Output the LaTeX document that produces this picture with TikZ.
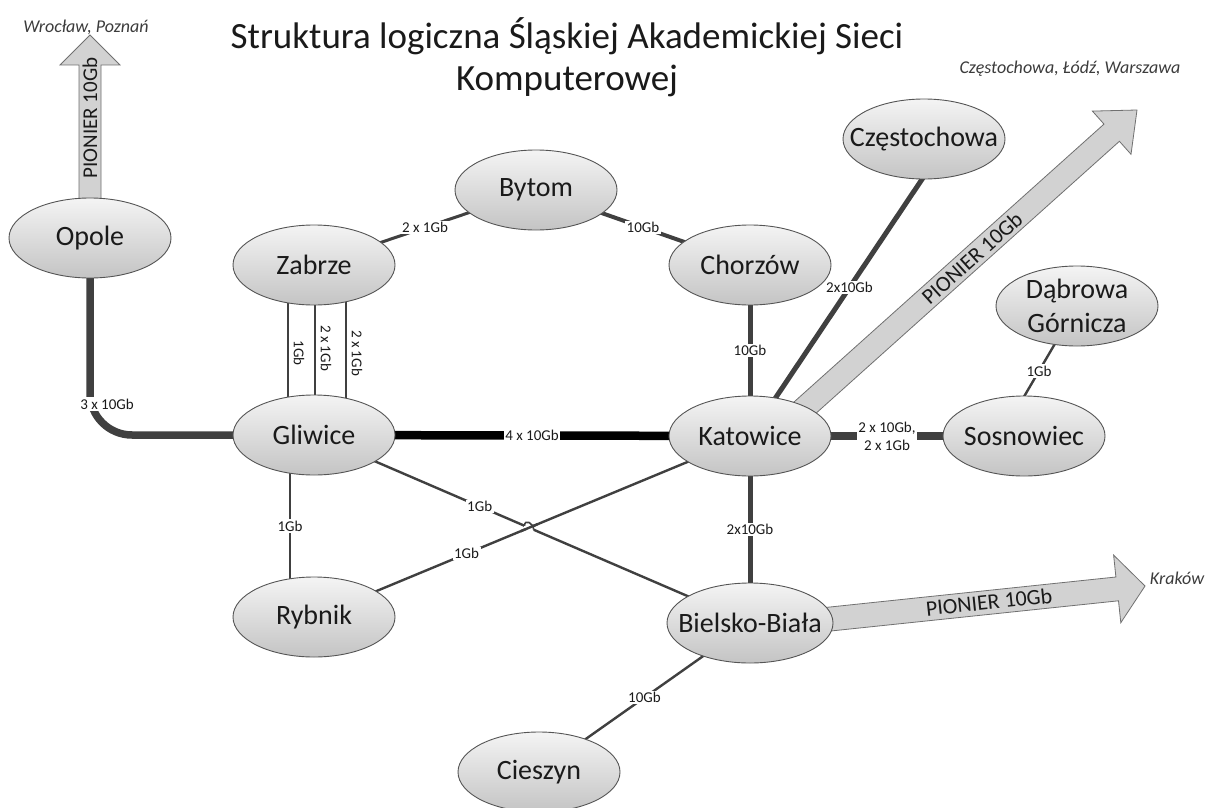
\documentclass[tikz,border=0pt]{standalone}
\usepackage{fontspec}
\setmainfont{Carlito}
\usetikzlibrary{shapes.geometric,calc,intersections}
\pgfdeclarelayer{bg}
\pgfsetlayers{bg,main}
\definecolor{edge}{HTML}{404040}
\definecolor{rim}{HTML}{555555}
\definecolor{ctop}{HTML}{F4F4F4}
\definecolor{cbot}{HTML}{C4C4C4}
\definecolor{arrfill}{HTML}{D2D2D2}
\definecolor{arrrim}{HTML}{707070}
\definecolor{ink}{HTML}{1A1A1A}
\tikzset{
  city/.style={ellipse, draw=rim, line width=0.9pt, top color=ctop, bottom color=cbot,
    minimum width=162pt, minimum height=80pt, inner sep=0pt},
  ctext/.style={font=\fontsize{28}{34}\selectfont, text=ink, align=center, inner sep=0pt},
  lbl/.style={font=\fontsize{15}{18}\selectfont, fill=white, inner sep=1.5pt, text=ink, align=center},
  rlbl/.style={font=\fontsize{15}{18}\selectfont, inner sep=0pt, text=ink},
  itl/.style={font=\fontsize{18}{21}\selectfont\itshape, text=ink!85},
  bigarrow/.style={draw=arrrim, line width=0.8pt, fill=arrfill},
  arrtext/.style={font=\fontsize{22}{24}\selectfont, text=ink, inner sep=0pt},
  lA/.style={draw=edge, line width=1.5pt},
  lB/.style={draw=edge, line width=2.4pt},
  lC/.style={draw=edge, line width=3pt},
  lD/.style={draw=edge, line width=4pt},
  lE/.style={draw=edge, line width=5pt},
  lF/.style={draw=edge, line width=7.5pt},
  lK/.style={draw=black, line width=8.5pt},
}
\begin{document}
\begin{tikzpicture}[x=1pt,y=-1pt]
\useasboundingbox (0,0) rectangle (1226,808);

% cities
\node[city, label={[ctext]center:Opole}] (opo) at (90,238) {};
\node[city, label={[ctext]center:Zabrze}] (zab) at (314,265) {};
\node[city, label={[ctext]center:Gliwice}] (gli) at (314,435) {};
\node[city, label={[ctext]center:Bytom}] (byt) at (536,190) {};
\node[city, label={[ctext]center:Chorzów}] (cho) at (750,265) {};
\node[city, label={[ctext]center:Katowice}] (kat) at (750,436) {};
\node[city, label={[ctext]center:Częstochowa}] (cze) at (924,139) {};
\node[city, label={[ctext]center:Dąbrowa\\Górnicza}] (dab) at (1077,306) {};
\node[city, label={[ctext]center:Sosnowiec}] (sos) at (1024,436) {};
\node[city, label={[ctext]center:Rybnik}] (ryb) at (314,617) {};
\node[city, minimum width=166pt, label={[ctext]center:Bielsko-Biała}] (bb) at (750,623) {};
\node[city, label={[ctext]center:Cieszyn}] (cie) at (539,772) {};

% title and destinations
\node[font=\fontsize{37}{42}\selectfont, text=ink, align=center] (title) at (567,57)
  {Struktura logiczna Śląskiej Akademickiej Sieci\\Komputerowej};
\node[itl] (wro) at (86,27) {Wrocław, Poznań};
\node[itl] (ncz) at (1070,69) {Częstochowa, Łódź, Warszawa};
\node[itl] (kra) at (1177,578) {Kraków};

\begin{pgfonlayer}{bg}
\fill[white] (0,0) rectangle (1226,808);
% PIONIER arrows
\path[bigarrow] (79,240) -- (79,65) -- (60,65) -- (90,35) -- (120,65) -- (101,65) -- (101,240) -- cycle;
\node[arrtext, rotate=90, font=\fontsize{21}{24}\selectfont] (pa) at (90,118) {PIONIER 10Gb};
\path[bigarrow] (785.4,409.7) -- (1104.0,124.1) -- (1092.4,111.1) -- (1137,110) -- (1131.0,154.3) -- (1119.4,141.3) -- (800.8,426.9) -- cycle;
\node[arrtext, rotate=41.9] (pb) at (972,258) {PIONIER 10Gb};
\path[bigarrow] (799.6,610.2) -- (1115.9,577.0) -- (1113.6,555.1) -- (1145,586) -- (1120.8,622.7) -- (1118.5,600.8) -- (802.2,634.0) -- cycle;
\node[arrtext, rotate=6] (pc) at (989,602) {PIONIER 10Gb};

% links
\draw[lF, rounded corners=42pt] (opo.center) |- (gli.center);
\node[lbl] (l1) at (107,404) {3 x 10Gb};

\draw[lA] ([xshift=-26pt]zab.center) -- ([xshift=-26pt]gli.center);
\draw[lA] ([xshift=1pt]zab.center) -- ([xshift=1pt]gli.center);
\draw[lA] ([xshift=32pt]zab.center) -- ([xshift=32pt]gli.center);
\node[rlbl, rotate=-90] (z1) at ($(zab.center)!0.5!(gli.center)+(-15,3)$) {1Gb};
\node[rlbl, rotate=-90] (z2) at ($(zab.center)!0.5!(gli.center)+(12,-2)$) {2 x 1Gb};
\node[rlbl, rotate=-90] (z3) at ($(zab.center)!0.5!(gli.center)+(43,3)$) {2 x 1Gb};

\draw[lC] (zab.center) -- node[lbl]{2 x 1Gb} (byt.center);
\draw[lD] (byt.center) -- node[lbl]{10Gb} (cho.center);
\draw[lE] (cho.center) -- node[lbl]{10Gb} (kat.center);
\draw[lE] (kat.center) -- node[lbl]{2x10Gb} ([xshift=25pt]cze.center);
\draw[lK] (gli.center) -- node[lbl]{4 x 10Gb} (kat.center);
\draw[lF] (kat.center) -- node[lbl]{2 x 10Gb,\\2 x 1Gb} (sos.center);
\draw[lB] (dab.center) -- node[lbl]{1Gb} ([xshift=-23pt]sos.center);
\draw[lB] ([xshift=-24pt]gli.center) -- node[lbl]{1Gb} ([xshift=-24pt]ryb.center);
\draw[lE] (kat.center) -- node[lbl]{2x10Gb} (bb.center);
\draw[lB] (bb.center) -- node[lbl]{10Gb} (cie.center);
\draw[lB, name path=gb] (gli.center) -- node[lbl, pos=0.38]{1Gb} (bb.center);
\draw[lB, name path=rk] (ryb.center) -- node[lbl, pos=0.35]{1Gb} (kat.center);
% hop at the crossing
\path[name intersections={of=gb and rk, by=X}];
\draw[white, line width=5pt] ($(X)!5pt!(gli.center)$) -- ($(X)!5pt!(bb.center)$);
\draw[lB] ($(X)!9pt!(ryb.center)$) -- ($(X)!9pt!(kat.center)$);
\draw[edge, line width=1.6pt] ($(X)!5pt!(gli.center)$) .. controls ($(X)!5pt!(gli.center)+(0,-7)$) and ($(X)!5pt!(bb.center)+(0,-7)$) .. ($(X)!5pt!(bb.center)$);
\end{pgfonlayer}
\end{tikzpicture}
\end{document}
